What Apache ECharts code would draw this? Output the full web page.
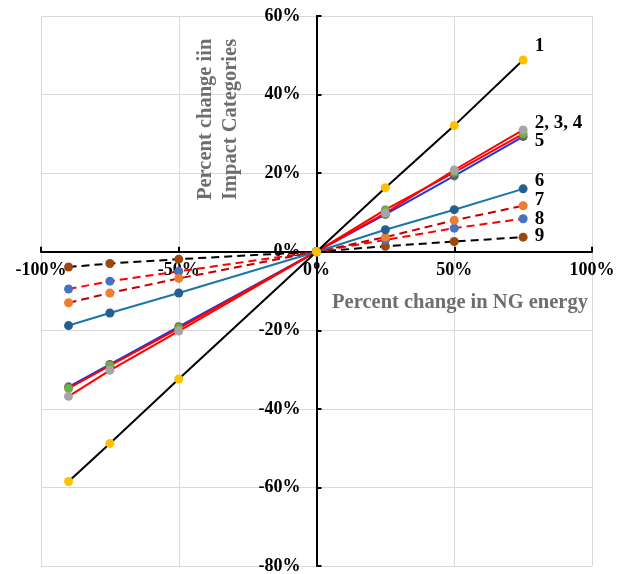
<!DOCTYPE html>
<html><head><meta charset="utf-8">
<script src="https://cdn.jsdelivr.net/npm/echarts@6/dist/echarts.min.js"></script>
<style>html,body{margin:0;padding:0;background:#fff}#c{width:626px;height:574px}</style>
</head><body><div id="c"></div>
<script>
const xValues = [-90, -75, -50, 0, 25, 50, 75];
const s1 = [-58.5, -48.8, -32.4, 0, 16.3, 32.1, 48.8];
const s2 = [-36.8, -30.2, -20.2, 0, 9.8, 20.8, 31.0];
const s3 = [-34.8, -29.0, -19.5, 0, 10.7, 20.2, 30.0];
const s5 = [-34.4, -28.7, -19.1, 0, 9.5, 19.3, 29.3];
const s6 = [-18.8, -15.6, -10.5, 0, 5.6, 10.7, 16.0];
const s7 = [-13.0, -10.5, -6.8, 0, 3.7, 8.0, 11.7];
const s8 = [-9.5, -7.5, -5.0, 0, 3.0, 6.0, 8.4];
const s9 = [-3.9, -3.0, -1.9, 0, 1.4, 2.6, 3.7];
const endNames = ['1', '2, 3, 4', '', '5', '6', '7', '8', '9'];

const FONT = '"Liberation Serif", "Times New Roman", serif';
const G = {left: 41, right: 34, top: 16, bottom: 8};
const W = 626 - G.left - G.right, H = 574 - G.top - G.bottom;
const XMIN = -100, XMAX = 100, YMIN = -80, YMAX = 60;
const xAxisOffset = -H * (0 - YMIN) / (YMAX - YMIN);
const yAxisOffset = -W * (0 - XMIN) / (XMAX - XMIN);

const defs = [
  {d: s1, line: '#000000', mk: '#FFC000', dash: 'solid', off: [2, -14]},
  {d: s2, line: '#FF0000', mk: '#A5A5A5', dash: 'solid', off: [2, -7]},
  {d: s3, line: '#FF0000', mk: '#70AD47', dash: 'solid', off: [0, 0]},
  {d: s5, line: '#1F35E6', mk: '#636363', dash: 'solid', off: [2, 4]},
  {d: s6, line: '#1B75A8', mk: '#255E91', dash: 'solid', off: [2, -8]},
  {d: s7, line: '#C00000', mk: '#ED7D31', dash: [8, 5], off: [2, -6]},
  {d: s8, line: '#FF0000', mk: '#4472C4', dash: [8, 5], off: [2, 0]},
  {d: s9, line: '#000000', mk: '#9E480E', dash: [8, 5], off: [2, -1]}
];

const series = defs.map((s, i) => ({
  type: 'line',
  name: endNames[i] || ('s' + i),
  data: s.d.map((v, j) => [xValues[j], v]),
  symbol: 'circle',
  symbolSize: 9,
  showAllSymbol: true,
  z: 10 - i,
  lineStyle: {color: s.line, width: 2, type: s.dash},
  itemStyle: {color: s.mk},
  label: {
    show: !!endNames[i],
    position: 'right',
    offset: s.off,
    fontFamily: FONT, fontWeight: 'bold', fontSize: 19, color: '#000',
    formatter: p => p.dataIndex === s.d.length - 1 ? endNames[i] : ''
  },
  animation: false
}));

const labelStyle = {formatter: '{value}%', fontFamily: FONT, fontWeight: 'bold', fontSize: 18, color: '#000'};

const chart = echarts.init(document.getElementById('c'));
chart.setOption({
  animation: false,
  grid: Object.assign({containLabel: false, outerBoundsMode: 'none'}, G),
  xAxis: {
    type: 'value', min: XMIN, max: XMAX, interval: 50,
    position: 'bottom', offset: xAxisOffset,
    axisLine: {onZero: false, lineStyle: {color: '#000', width: 2}},
    axisTick: {show: true, inside: true, length: 5, lineStyle: {color: '#000', width: 2}},
    axisLabel: Object.assign({margin: 10}, labelStyle),
    splitLine: {show: true, lineStyle: {color: '#D9D9D9', width: 1}}
  },
  yAxis: {
    type: 'value', min: YMIN, max: YMAX, interval: 20,
    position: 'left', offset: yAxisOffset,
    axisLine: {onZero: false, lineStyle: {color: '#000', width: 2}},
    axisTick: {show: true, inside: true, length: 5, lineStyle: {color: '#000', width: 2}},
    axisLabel: Object.assign({margin: 16}, labelStyle),
    splitLine: {show: true, lineStyle: {color: '#D9D9D9', width: 1}}
  },
  graphic: [
    {type: 'text', x: 206, y: 200, rotation: Math.PI / 2, z: 100,
     style: {text: 'Percent change iin', fontFamily: FONT, fontWeight: 'bold', fontSize: 20.5, fill: '#6E6E6E', textAlign: 'left', textVerticalAlign: 'middle'}},
    {type: 'text', x: 231, y: 200, rotation: Math.PI / 2, z: 100,
     style: {text: 'Impact Categories', fontFamily: FONT, fontWeight: 'bold', fontSize: 20.5, fill: '#6E6E6E', textAlign: 'left', textVerticalAlign: 'middle'}},
    {type: 'text', x: 460, y: 303, z: 100,
     style: {text: 'Percent change in NG energy', fontFamily: FONT, fontWeight: 'bold', fontSize: 20.5, fill: '#6E6E6E', textAlign: 'center', textVerticalAlign: 'middle'}}
  ],
  series: series
});
</script>
</body></html>
